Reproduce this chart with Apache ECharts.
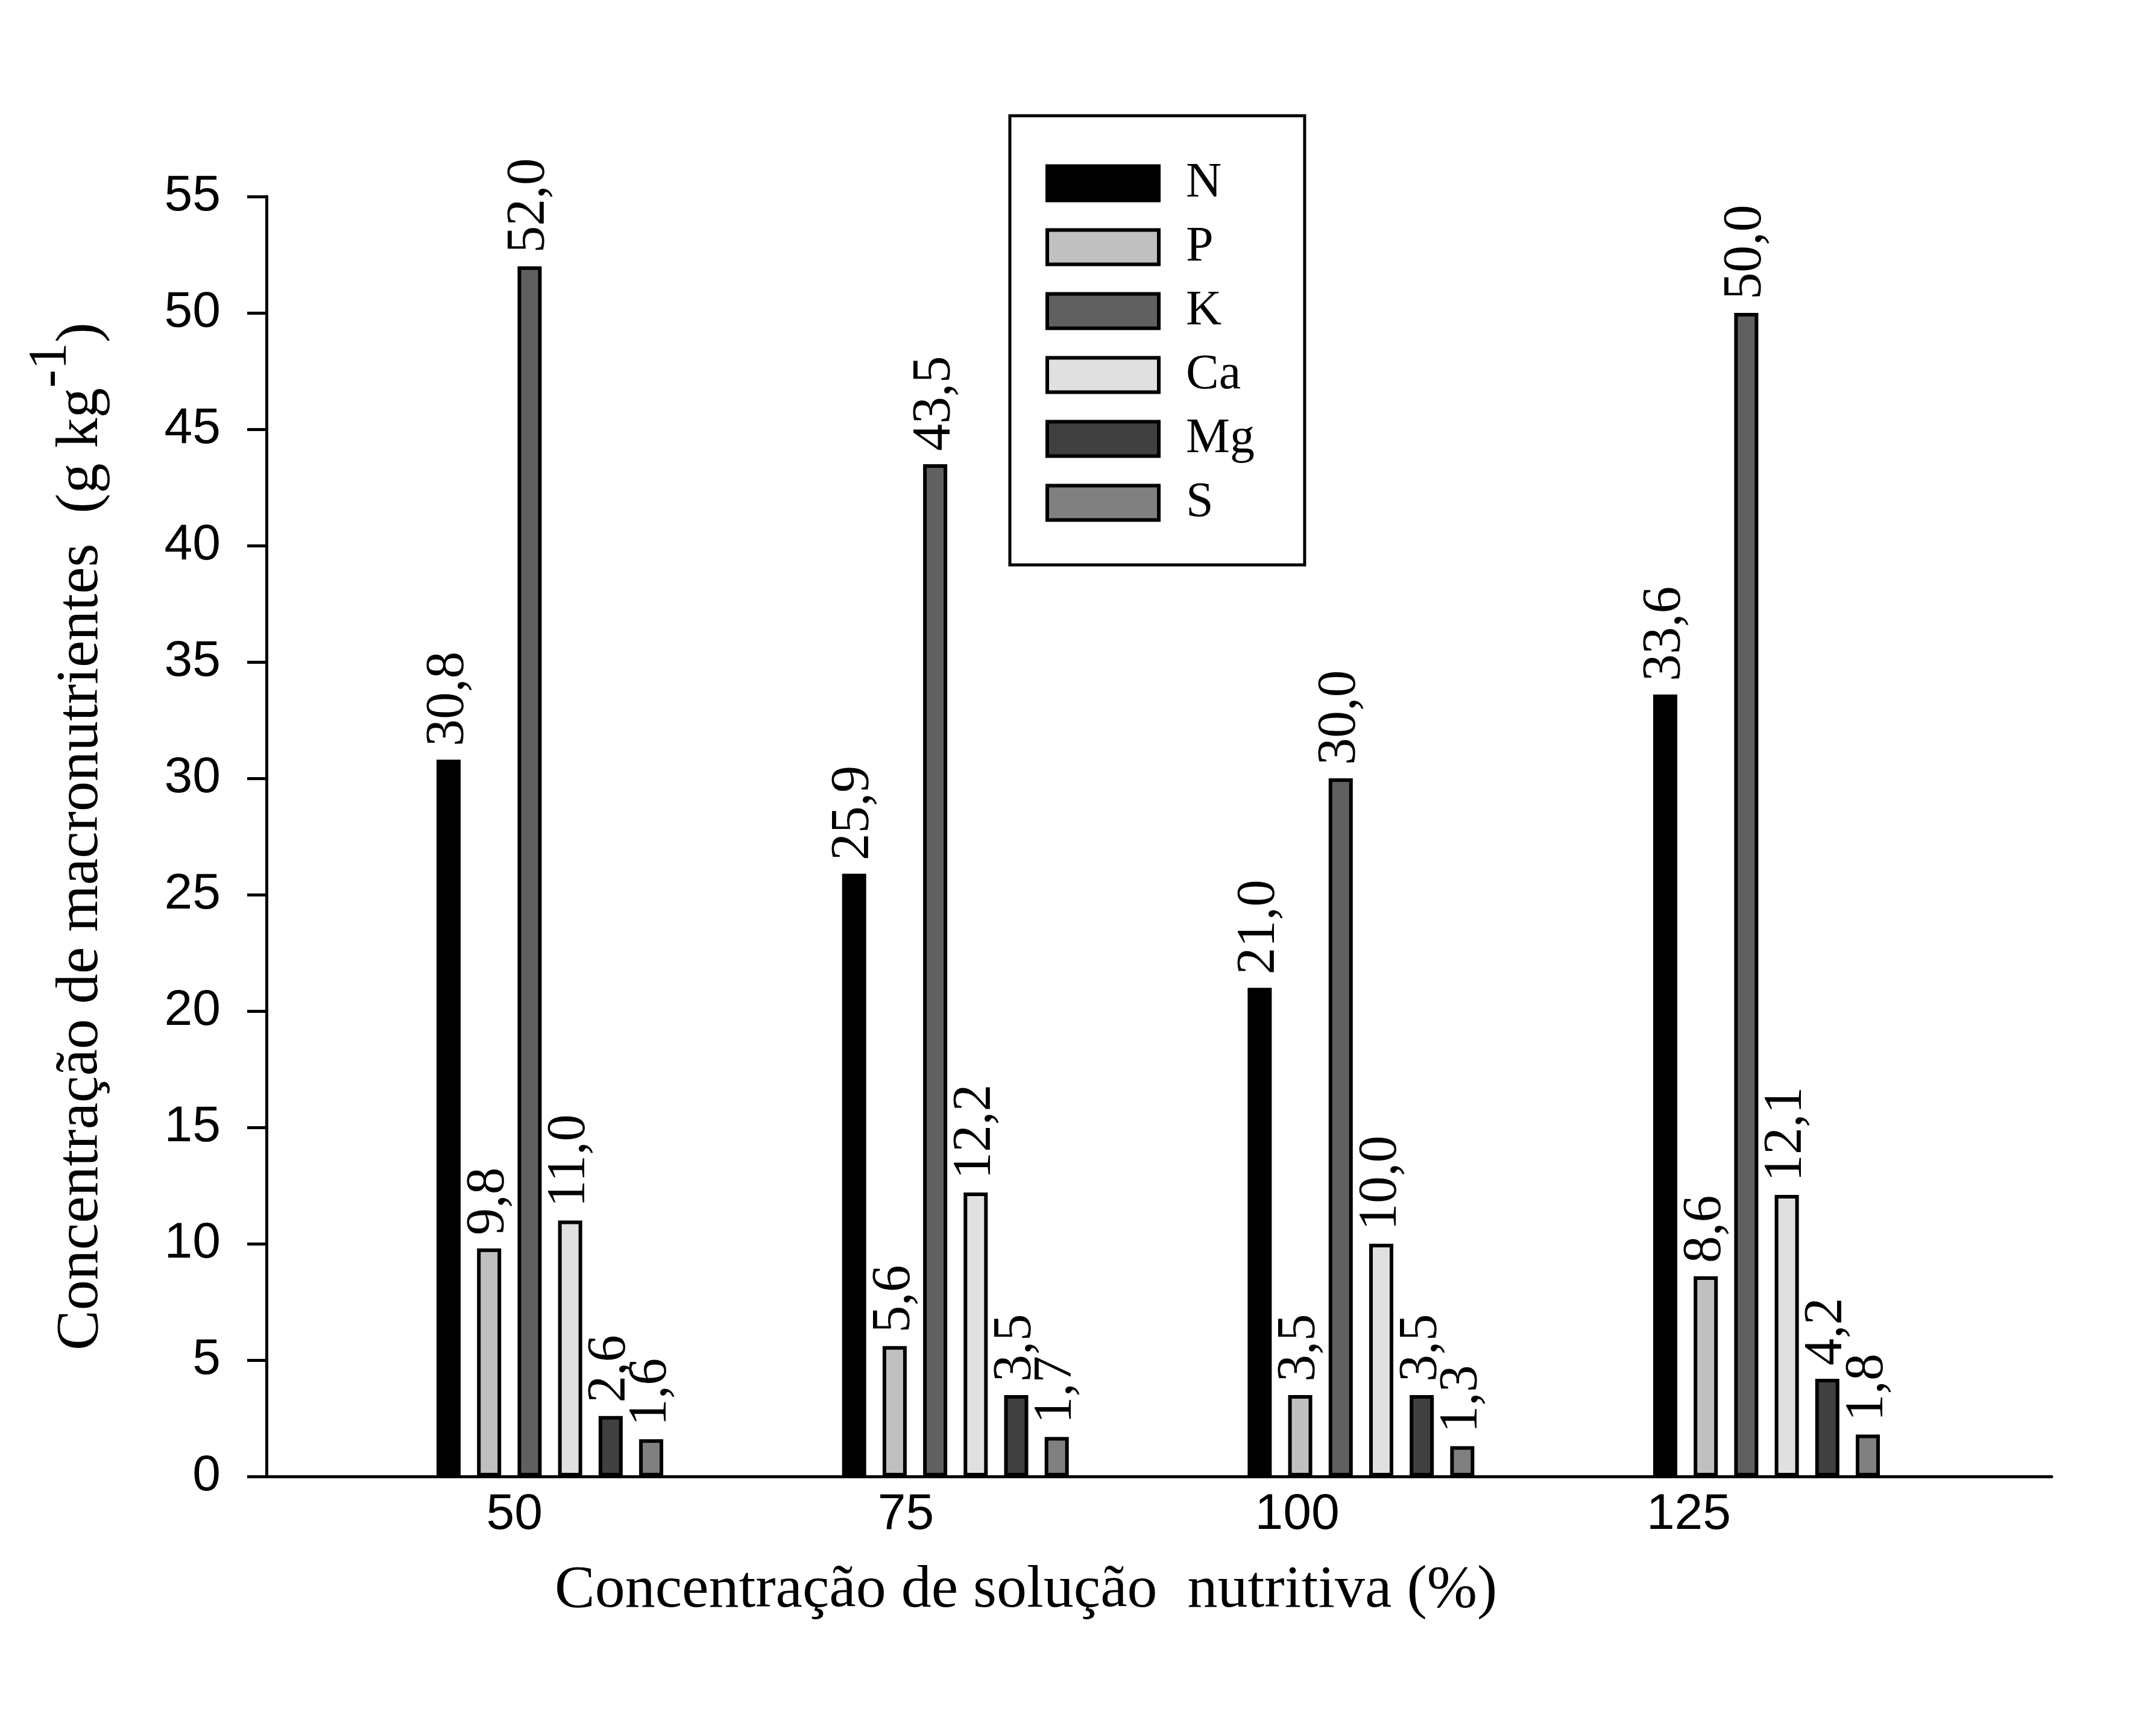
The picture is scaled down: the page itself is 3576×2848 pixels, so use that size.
<!DOCTYPE html>
<html>
<head>
<meta charset="utf-8">
<title>Macronutrientes</title>
<script src="https://cdn.jsdelivr.net/npm/echarts@6.0.0/dist/echarts.min.js"></script>
<style>
    html, body {margin: 0; padding: 0; background: #fff;}
    #chart-container {width: 3576px; height: 2848px;}
</style>
</head>
<body>
<div id="chart-container"></div>
<script>
// concentracao de solucao nutritiva (%)
var categories = [50, 75, 100, 125];
var names = ['N', 'P', 'K', 'Ca', 'Mg', 'S'];
var data_N = [30.8, 25.9, 21.0, 33.6];
var data_P = [9.8, 5.6, 3.5, 8.6];
var data_K = [52.0, 43.5, 30.0, 50.0];
var data_Ca = [11.0, 12.2, 10.0, 12.1];
var data_Mg = [2.6, 3.5, 3.5, 4.2];
var data_S = [1.6, 1.7, 1.3, 1.8];
var yTicks = [0, 5, 10, 15, 20, 25, 30, 35, 40, 45, 50, 55];

var colors = ['#000000', '#c0c0c0', '#606060', '#e0e0e0', '#404040', '#808080'];
var SERIF = 'Liberation Serif';
var SANS = 'Liberation Sans';

function pairs(values) {
    var out = [];
    values.forEach(function (v, i) {
        out.push([categories[i], v]);
    });
    return out;
}

function makeSeries(name, values) {
    return {
        name: name,
        type: 'bar',
        xAxisIndex: 0,
        barWidth: 40,
        barGap: '68%',
        itemStyle: {borderColor: '#000', borderWidth: 6},
        label: {
            show: true,
            position: 'top',
            rotate: 90,
            align: 'left',
            verticalAlign: 'middle',
            distance: 22,
            color: '#000',
            fontFamily: SERIF,
            fontSize: 90,
            formatter: function (p) {
                return '{v|' + p.value[1].toFixed(1).replace('.', ',') + '}';
            },
            rich: {
                v: {fontFamily: SERIF, fontSize: 90, color: '#000'}
            }
        },
        emphasis: {disabled: true},
        animation: false,
        data: pairs(values)
    };
}

var myChart = echarts.init(document.getElementById('chart-container'), null, {renderer: 'canvas'});

var option = {
    backgroundColor: '#fff',
    color: colors,
    animation: false,
    textStyle: {fontFamily: SERIF},
    title: {
        text: 'Concentração de solução  nutritiva (%)',
        left: 920,
        top: 2589,
        padding: 0,
        textStyle: {fontFamily: SERIF, fontSize: 100, fontWeight: 'normal', color: '#000'}
    },
    legend: {
        orient: 'vertical',
        left: 1675,
        top: 192,
        padding: [71, 83, 62, 59],
        backgroundColor: '#fff',
        borderColor: '#000',
        borderWidth: 5,
        borderRadius: 0,
        icon: 'rect',
        itemWidth: 185,
        itemHeight: 57,
        itemGap: 24,
        itemStyle: {borderColor: '#000', borderWidth: 6},
        selectedMode: false,
        textStyle: {
            fontFamily: SERIF,
            fontSize: 82,
            color: '#000',
            padding: [0, 0, 0, 40]
        },
        data: names
    },
    grid: {
        left: 442,
        right: 173,
        top: 326,
        bottom: 399,
        containLabel: false,
        outerBoundsMode: 'none'
    },
    xAxis: [
        {
            // axis for the bar groups
            type: 'value',
            min: 32.53,
            max: 142.58,
            show: true,
            axisLine: {show: false},
            axisTick: {show: false},
            axisLabel: {show: false},
            splitLine: {show: false}
        },
        {
            // axis that carries the tick labels
            type: 'value',
            position: 'bottom',
            min: 34.17,
            max: 148.18,
            axisLine: {show: true, lineStyle: {color: '#000', width: 5}},
            axisTick: {show: false},
            splitLine: {show: false},
            axisLabel: {
                customValues: categories,
                margin: 22,
                color: '#000',
                fontFamily: SANS,
                fontSize: 84
            }
        }
    ],
    yAxis: {
        type: 'value',
        min: yTicks[0],
        max: yTicks[yTicks.length - 1],
        interval: 5,
        name: 'Concentração de macronutrientes  (g kg{sup|-1})',
        nameLocation: 'middle',
        nameRotate: 90,
        nameGap: 212,
        nameTextStyle: {
            fontFamily: SERIF,
            fontSize: 100,
            color: '#000',
            rich: {
                sup: {fontFamily: SERIF, fontSize: 90, color: '#000', padding: [0, 0, 100, 0]}
            }
        },
        axisLine: {show: true, lineStyle: {color: '#000', width: 5}},
        axisTick: {show: true, inside: false, length: 32, lineStyle: {color: '#000', width: 5}},
        splitLine: {show: false},
        axisLabel: {
            margin: 76,
            color: '#000',
            fontFamily: SANS,
            fontSize: 84
        }
    },
    series: [
        makeSeries(names[0], data_N),
        makeSeries(names[1], data_P),
        makeSeries(names[2], data_K),
        makeSeries(names[3], data_Ca),
        makeSeries(names[4], data_Mg),
        makeSeries(names[5], data_S)
    ]
};
myChart.setOption(option);
</script>
</body>
</html>
